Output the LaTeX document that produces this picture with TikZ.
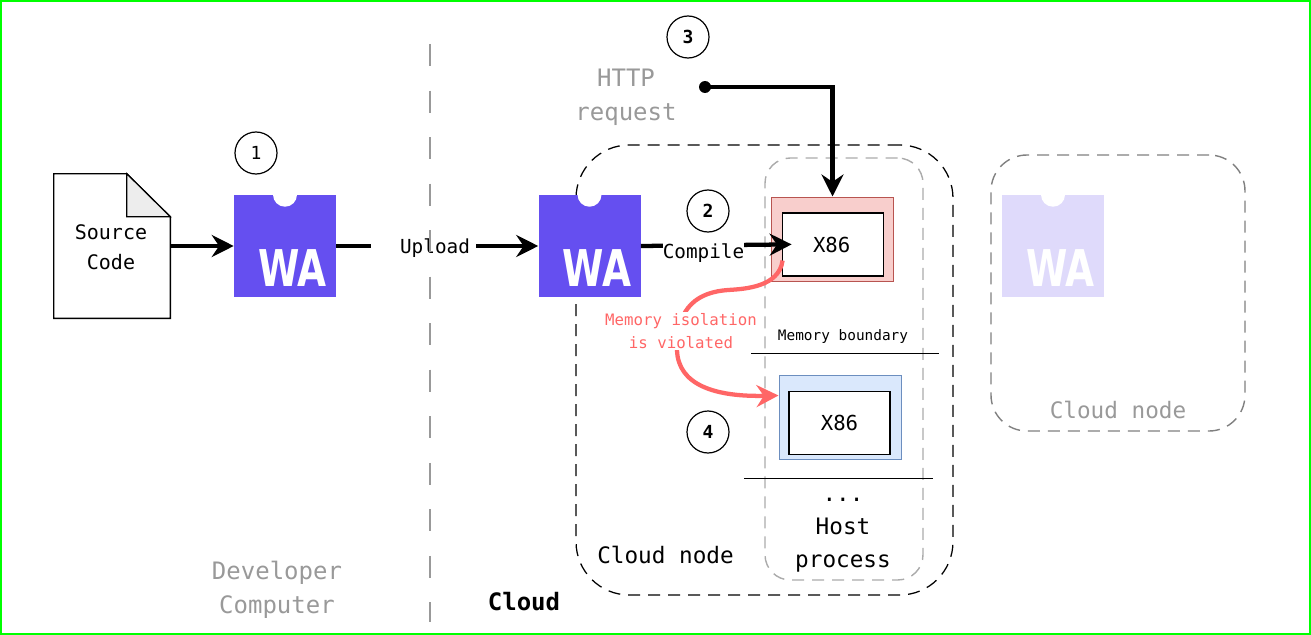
\documentclass[tikz,border=0pt]{standalone}
\usepackage{fontspec}
\setmainfont{DejaVu Sans Mono}
\newfontfamily\logofont{DejaVu Sans}
\usetikzlibrary{arrows.meta,calc}
\newcommand\pxf[2]{\fontsize{#1pt}{#2pt}\selectfont}
\definecolor{wapurple}{HTML}{654FF0}
\definecolor{walight}{HTML}{DFDAFB}
\definecolor{redfill}{HTML}{F8CECC}
\definecolor{reddraw}{HTML}{B85450}
\definecolor{bluefill}{HTML}{DAE8FC}
\definecolor{bluedraw}{HTML}{6C8EBF}
\definecolor{alert}{HTML}{FF6666}
\definecolor{greytxt}{HTML}{999999}
\tikzset{
  wabox/.style={rectangle,inner sep=0pt,minimum width=76.5pt,minimum height=76.5pt,fill=#1},
  notch/.style={circle,inner sep=0pt,minimum size=18pt,fill=white},
  watext/.style={inner sep=0pt,text=white,font=\logofont\bfseries\pxf{38}{38}},
  stepmark/.style={circle,draw=black,line width=0.9pt,fill=white,inner sep=0pt,minimum size=31.5pt,font=\bfseries\pxf{13.5}{15}},
  bigarrow/.style={line width=3.2pt,-{Stealth[length=16.5pt,width=16.5pt,inset=5.5pt]}},
  outerbox/.style={rectangle,inner sep=0pt,line width=0.75pt},
  innerbox/.style={rectangle,draw=black,fill=white,line width=1.1pt,inner sep=0pt,minimum width=76pt,minimum height=47pt,font=\pxf{15.5}{18}},
  rule/.style={line width=0.7pt},
  greylabel/.style={align=center,text=greytxt,inner sep=0pt,font=\pxf{18}{25.5}},
  blacklabel/.style={align=center,inner sep=0pt,font=\pxf{17}{24.75}},
  arrowlabel/.style={fill=white,inner sep=0pt,minimum height=18pt,font=\pxf{14.5}{18}},
}
\newcommand\walogo[3]{%
  \node[wabox=#3] (#1) at (#2,246) {};
  \node[notch] (#1n) at (#1.north) {};
  \node[watext] (#1t) at ([shift={(7.5,22)}]#1.center) {\scalebox{0.74}[1]{WA}};
}
\begin{document}
\begin{tikzpicture}[x=0.75pt,y=-0.75pt]
\useasboundingbox (0,0) rectangle (1311,635);
\fill[white] (0,0) rectangle (1311,635);
\draw[draw={rgb,255:red,0;green,255;blue,0},line width=1.5pt] (1,1) rectangle (1310,634);

% containers
\node[draw=black,rectangle,inner sep=0pt,minimum width=282.75pt,minimum height=337.5pt,rounded corners=40pt,line width=0.95pt,dash pattern=on 9pt off 6pt] (cloud) at (764.5,370) {};
\node[draw=black!33,rectangle,inner sep=0pt,minimum width=118.5pt,minimum height=316.5pt,rounded corners=19pt,line width=1.05pt,dash pattern=on 9pt off 6pt] (host) at (844,369) {};
\node[draw=black!50,rectangle,inner sep=0pt,minimum width=190.5pt,minimum height=207pt,rounded corners=27pt,line width=1.05pt,dash pattern=on 9pt off 6pt] (cloudb) at (1118,293) {};

% source document
\node[rectangle,inner sep=0pt,minimum width=87pt,minimum height=108pt] (src) at (112,246) {};
\draw[line width=1.1pt,fill=white] (src.south west) -- (src.north west) -- ([shift={(73,0)}]src.north west) -- ([shift={(0,43)}]src.north east) -- (src.south east) -- cycle;
\draw[line width=0.9pt,fill=black!7] ([shift={(73,0)}]src.north west) -- ([shift={(73,43)}]src.north west) -- ([shift={(0,43)}]src.north east) -- cycle;
\node[inner sep=0pt,align=center,font=\pxf{15}{22.5}] (srct) at ([shift={(-1,1)}]src.center) {Source\\Code};

% logos
\walogo{wa}{285}{wapurple}
\walogo{wb}{589.5}{wapurple}
\walogo{wc}{1053}{walight}

% boxes
\node[outerbox,draw=reddraw,fill=redfill,minimum width=92pt,minimum height=63pt] (red) at (832.5,239) {};
\node[innerbox] (xa) at (833,244.5) {\hspace*{-2pt}X86};
\node[outerbox,draw=bluedraw,fill=bluefill,minimum width=91.5pt,minimum height=63pt] (blue) at (840,417) {};
\node[innerbox] (xb) at (839.5,423) {X86};

% connectors
\draw[bigarrow] (src.east |- wa.west) -- (wa.west);
\draw[bigarrow] (wa.east) -- (wb.west);
\draw[bigarrow,shorten >=-7.5pt] (wb.east) -- (xa.west);
\node[arrowlabel] (upl) at (423.5,248) {\hspace*{21.75pt}Upload\hspace*{4.5pt}};
\node[arrowlabel] (cmp) at (703.5,253) {Compile};

% divider
\coordinate (divtop) at (430,44);
\coordinate (divbot) at (430,622);
\draw[draw=greytxt,line width=1.9pt,dash pattern=on 16.5pt off 18.4pt] (divtop) -- (divbot);

% request
\coordinate (req) at (705,87);
\fill (req) circle[radius=6];
\draw[bigarrow] (req) -| (red.north);

% rules
\coordinate (ma) at (751,353); \coordinate (mb) at (939,353);
\draw[rule] (ma) -- (mb);
\coordinate (na) at (744,478); \coordinate (nb) at (933,478);
\draw[rule] (na) -- (nb);
\node[inner sep=0pt,font=\pxf{10.8}{13}] (mem) at (843,336.5) {Memory boundary};

% violation
\draw[alert,line width=3.2pt,-{Stealth[length=16.5pt,width=16.5pt,inset=5.5pt]}]
  ($(xa.west)+(1,16)$) .. controls (779,287) and (745,289) .. (728,290)
  .. controls (700,292) and (676,305) .. (677,350)
  .. controls (678,385) and (715,397) .. ($(blue.north west)+(0,21)$);
\node[fill=white,inner sep=1pt,align=center,text=alert,font=\pxf{11.8}{17}] (viol) at (681,331) {Memory isolation\\is violated};

% numbers
\node[stepmark,font=\pxf{13.5}{15}] (n1) at (256,153) {1};
\node[stepmark] (n2) at (708,211) {2};
\node[stepmark] (n3) at (688,37) {3};
\node[stepmark] (n4) at (708,432) {4};

% labels
\node[greylabel] (dev) at (277,590) {Developer\\Computer};
\node[greylabel] (http) at (626,97) {HTTP\\request};
\node[inner sep=0pt,font=\bfseries\pxf{18}{22}] (cl) at (524,602) {Cloud};
\node[inner sep=0pt,font=\pxf{17}{22}] (cn) at (665.5,555) {Cloud node};
\node[blacklabel] (hp) at (843,535) {...\\Host\\process};
\node[inner sep=0pt,text=greytxt,font=\pxf{17}{22}] (cn2) at (1118,410) {Cloud node};
\end{tikzpicture}
\end{document}
